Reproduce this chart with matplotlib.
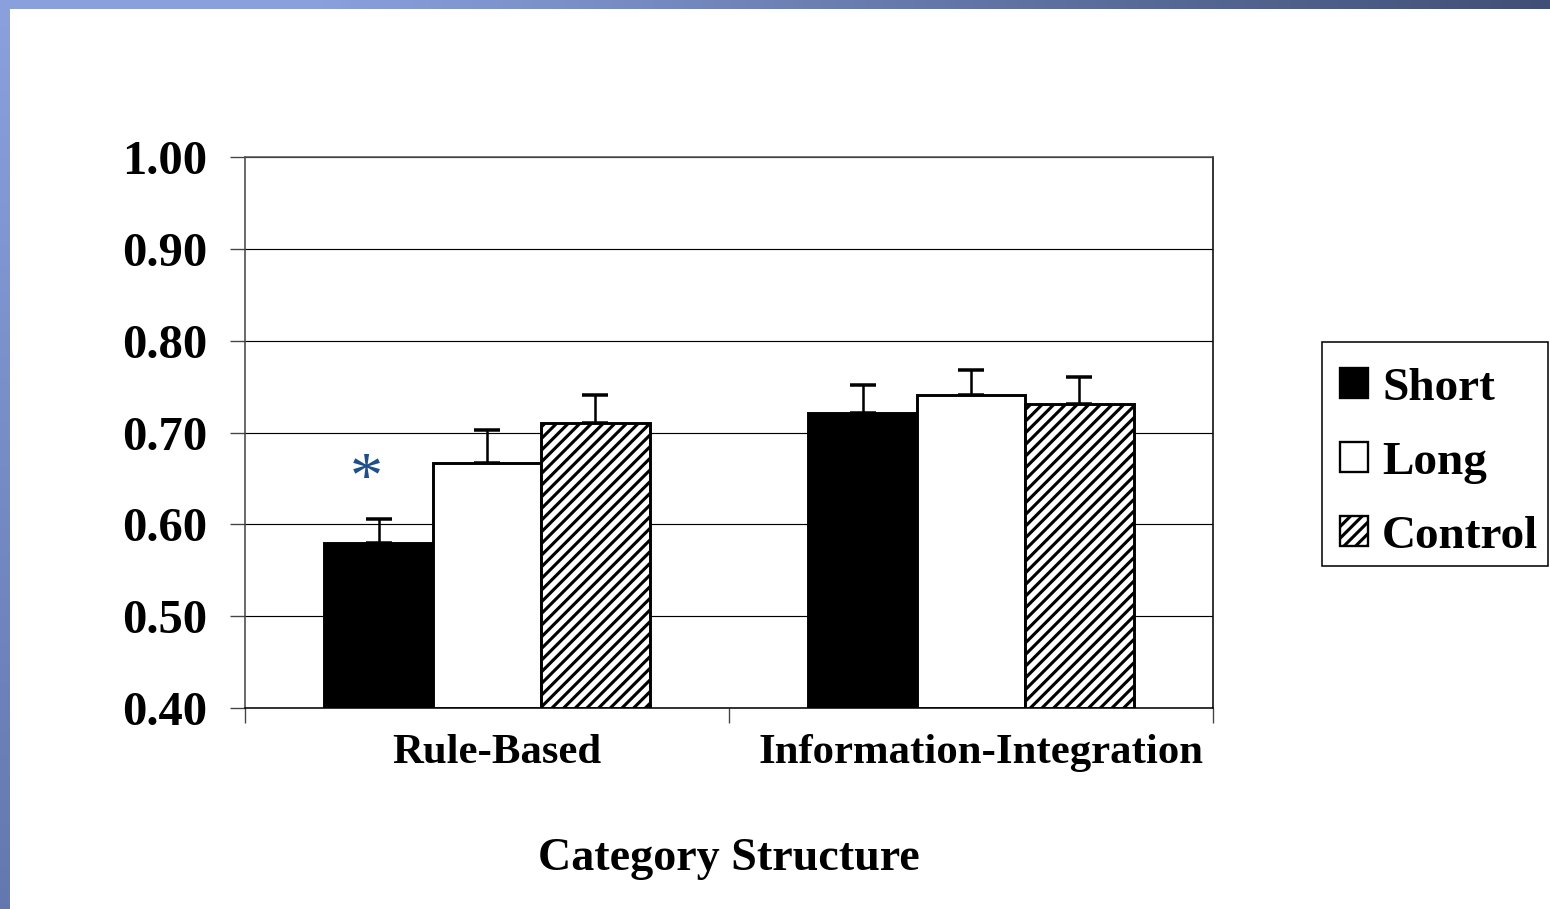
import numpy as np
import matplotlib
matplotlib.use("Agg")
import matplotlib.pyplot as plt
from matplotlib.patches import Patch, Rectangle

# accuracy per category structure and delay condition
categories = ["Rule-Based", "Information-Integration"]
conditions = ["Short", "Long", "Control"]
means = {
    "Short":   [0.580, 0.721],
    "Long":    [0.667, 0.741],
    "Control": [0.710, 0.731],
}
errors = {
    "Short":   [0.026, 0.031],
    "Long":    [0.036, 0.027],
    "Control": [0.031, 0.029],
}
yticks = [0.40, 0.50, 0.60, 0.70, 0.80, 0.90, 1.00]

DPI = 140
W, H = 1550, 909
plt.rcParams["font.family"] = ["Liberation Serif", "DejaVu Serif"]
plt.rcParams["font.weight"] = "bold"
plt.rcParams["axes.labelweight"] = "bold"
plt.rcParams["hatch.linewidth"] = 1.6

fig = plt.figure(figsize=(W / DPI, H / DPI), dpi=DPI)

# slide frame: gradient strip along the top and the left
top = fig.add_axes([0, 1 - 9 / H, 1, 9 / H])
grad = np.linspace(0, 1, 256)
light = np.array([0.54, 0.63, 0.87])
dark = np.array([0.25, 0.31, 0.46])
w = np.clip((grad - 0.2) / 0.8, 0, 1)[:, None]
top.imshow((light * (1 - w) + dark * w)[None, :, :], aspect="auto", extent=[0, 1, 0, 1])
top.axis("off")
left = fig.add_axes([0, 0, 10 / W, 1 - 9 / H])
lowc = np.array([0.39, 0.47, 0.69])
v = grad[:, None]
left.imshow((lowc * (1 - v) + light * v)[::-1][:, None, :], aspect="auto", extent=[0, 1, 0, 1])
left.axis("off")

ax = fig.add_axes([245 / W, 1 - 708 / H, (1213 - 245) / W, (708 - 157) / H])

x = np.arange(len(categories))
width = 0.224
styles = {
    "Short":   dict(facecolor="black", hatch=None),
    "Long":    dict(facecolor="white", hatch=None),
    "Control": dict(facecolor="white", hatch="////"),
}
for i, cond in enumerate(conditions):
    pos = x + (i - 1) * width
    ax.bar(pos, np.array(means[cond]) - 0.4, width, bottom=0.4,
           facecolor=styles[cond]["facecolor"], hatch=styles[cond]["hatch"],
           edgecolor="black", linewidth=1.5, zorder=3)
    ax.errorbar(pos, means[cond], yerr=[np.zeros(2), errors[cond]], fmt="none",
                ecolor="black", elinewidth=1.3, capsize=6.5, capthick=1.8, zorder=2)

# significance marker over the short-delay rule-based bar
ax.text(-0.25, 0.647, "*", color="#1f4e8c", fontsize=34, fontweight="normal",
        ha="center", va="center")

ax.set_xlim(-0.5, 1.5)
ax.set_ylim(0.40, 1.00)
ax.set_yticks(yticks)
ax.set_yticklabels([f"{t:.2f}" for t in yticks])
ax.yaxis.grid(True, color="black", linewidth=0.6, zorder=0)
ax.set_axisbelow(True)

ax.set_xticks([-0.5, 0.5, 1.5])
ax.set_xticklabels([])
ax.set_xticks(x + 0.02, minor=True)
ax.set_xticklabels(categories, minor=True)
ax.tick_params(axis="x", which="major", length=7.5, width=0.7, color="#444444", direction="out")
ax.tick_params(axis="x", which="minor", length=0, pad=13.5, labelsize=22.0)
ax.tick_params(axis="y", length=7.5, width=0.7, color="#444444", direction="out", pad=12, labelsize=25)

for side in ["top", "right", "bottom", "left"]:
    ax.spines[side].set_linewidth(0.8)
ax.spines["left"].set_color("#444444")
ax.spines["top"].set_color("#555555")

ax.set_xlabel("Category Structure", fontsize=23.7, labelpad=34)

handles = [Patch(facecolor=styles[c]["facecolor"], hatch=styles[c]["hatch"],
                 edgecolor="black", linewidth=1.2) for c in conditions]
leg = ax.legend(handles, conditions, loc="upper left",
                bbox_to_anchor=(1323 / W, 1 - 351 / H), bbox_transform=fig.transFigure,
                borderaxespad=0, fontsize=24.3, frameon=False,
                handlelength=0.6, handleheight=0.6, handletextpad=0.3,
                labelspacing=0.68, borderpad=0.35)

# legend box
fig.patches.append(Rectangle((1322 / W, 1 - 566 / H), (1548 - 1322) / W, (566 - 342) / H,
                             transform=fig.transFigure, facecolor="none",
                             edgecolor="black", linewidth=0.8))

fig.savefig("out.png", dpi=DPI)
